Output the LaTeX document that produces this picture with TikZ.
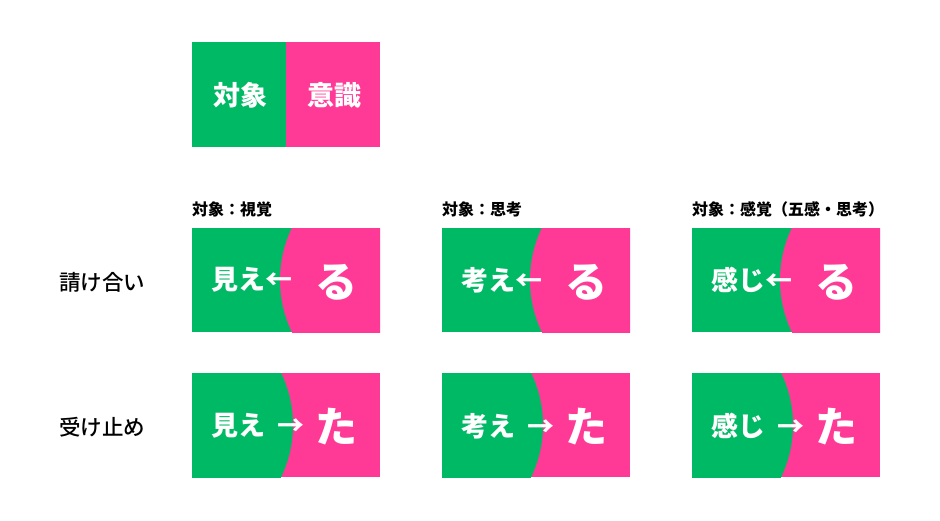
\documentclass[tikz,border=0pt]{standalone}
\usepackage{fontspec}
\setmainfont{Noto Sans CJK JP}
\newfontfamily\jpmid{Noto Sans CJK JP Medium}
\definecolor{objgreen}{RGB}{0,185,100}
\definecolor{mindpink}{RGB}{255,58,150}
\newcommand{\fs}[1]{\fontsize{#1}{#1}\selectfont}
% box where the pink side reaches into the green one
\newcommand{\askbox}[2]{
	\fill[objgreen] (#1,#2) rectangle ++(188,104);
	\begin{scope}
		\clip (#1,#2) rectangle ++(188,104);
		\fill[mindpink] (#1+208,#2+52) circle [radius=120pt];
	\end{scope}}
% box where the green side reaches into the pink one
\newcommand{\takebox}[2]{
	\fill[mindpink] (#1,#2) rectangle ++(188,104);
	\begin{scope}
		\clip (#1,#2) rectangle ++(188,104);
		\fill[objgreen] (#1-19,#2+52) circle [radius=120pt];
	\end{scope}}
\newcommand{\gap}{\hspace{0.45em}}
\tikzset{
	inword/.style={text=white, font=\bfseries\fs{27}, inner sep=0pt},
	bigkana/.style={text=white, font=\bfseries\fs{42}, inner sep=0pt},
	caption/.style={anchor=west, font=\bfseries\fs{16}, inner sep=0pt},
	rowname/.style={anchor=west, font=\jpmid\fs{21.5}, inner sep=0pt}
}
\begin{document}
\begin{tikzpicture}[x=1pt, y=-1pt]
	\useasboundingbox[fill=white] (0,0) rectangle (940,520);

	% top box
	\fill[objgreen] (192,42) rectangle (286,147);
	\fill[mindpink] (286,42) rectangle (380,147);
	\node (obj)  at (240,95) [inword] {対象};
	\node (mind) at (334,95) [inword] {意識};

	% captions
	\node (cap1) at (192,209) [caption] {対象：視覚};
	\node (cap2) at (442,209) [caption] {対象：思考};
	\node (cap3) at (692,209) [caption] {対象：感覚（五感・思考）};

	% row names
	\node (ukeai)   at (59,282) [rowname] {請け合い};
	\node (uketome) at (59,427) [rowname] {受け止め};

	% first row
	\askbox{192}{228}
	\askbox{442}{228}
	\askbox{692}{228}
	\node (see1)  at (211,280) [inword, anchor=west] {見え←};
	\node (ru1)   at (336,282) [bigkana] {る};
	\node (think1) at (461,280) [inword, anchor=west] {考え←};
	\node (ru2)   at (586,282) [bigkana] {る};
	\node (feel1) at (711,280) [inword, anchor=west] {感じ←};
	\node (ru3)   at (836,282) [bigkana] {る};

	% second row
	\takebox{192}{373}
	\takebox{442}{373}
	\takebox{692}{373}
	\node (see2)  at (211,426) [inword, anchor=west] {見え\gap →};
	\node (ta1)   at (336,427) [bigkana] {た};
	\node (think2) at (461,426) [inword, anchor=west] {考え\gap →};
	\node (ta2)   at (586,427) [bigkana] {た};
	\node (feel2) at (711,426) [inword, anchor=west] {感じ\gap →};
	\node (ta3)   at (836,427) [bigkana] {た};
\end{tikzpicture}
\end{document}
